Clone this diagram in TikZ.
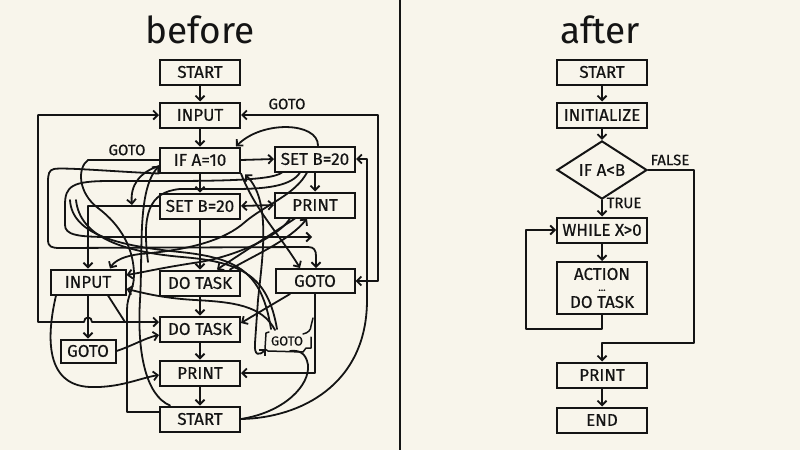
\documentclass[tikz,border=0pt]{standalone}
\usepackage{fontspec}
\setmainfont{Fira Sans}
\newfontfamily\bxfont{Fira Sans}[FakeBold=0.5]
\usetikzlibrary{arrows.meta,shapes.geometric}
\definecolor{bg}{RGB}{248,245,235}
\definecolor{ink}{RGB}{20,20,20}
\begin{document}
\begin{tikzpicture}[x=1pt,y=-1pt,
  box/.style={draw=ink,line width=2pt,minimum width=80pt,minimum height=25pt,inner sep=0pt,text=ink,font=\bxfont\fontsize{17}{17}\selectfont},
  rbox/.style={box,minimum width=90pt},
  dia/.style={box,shape=diamond,minimum width=90pt,minimum height=46pt},
  ln/.style={draw=ink,line width=1.8pt,line join=round,line cap=round},
  arr/.style={ln,-{Straight Barb[length=4.5pt,width=9pt]}},
  barr/.style={ln,{Straight Barb[length=4.5pt,width=9pt]}-{Straight Barb[length=4.5pt,width=9pt]}},
  rarr/.style={ln,{Straight Barb[length=4.5pt,width=9pt]}-},
  lbl/.style={text=ink,inner sep=0pt,font=\bxfont\fontsize{15}{15}\selectfont},
  ttl/.style={text=ink,inner sep=0pt,font=\fontsize{37}{38}\selectfont}]
\fill[bg] (0,0) rectangle (800,450);
\useasboundingbox (0,0) rectangle (800,450);

% titles and divider
\node[ttl] (tb) at (200,30) {before};
\node[ttl] (ta) at (600,30) {after};
\draw[ink,line width=1.8pt] (400,0) -- (400,450);

% ---------- left boxes ----------
\node[box] (s1) at (200,72) {START};
\node[box] (in1) at (200,115) {INPUT};
\node[box] (if1) at (200,160) {IF A=10};
\node[box] (setr) at (315,159) {SET B=20};
\node[box] (setm) at (200,206) {SET B=20};
\node[box] (prr) at (315,205) {PRINT};
\node[box,minimum width=75pt] (inl) at (88,282) {INPUT};
\node[box] (dt1) at (200,283) {DO TASK};
\node[box,minimum width=79pt,minimum height=24pt] (gtr) at (315,281) {GOTO};
\node[box] (dt2) at (200,329) {DO TASK};
\node[box,minimum width=55pt,minimum height=23pt] (gts) at (88,351) {GOTO};
\node[text=ink,inner sep=0pt,font=\bxfont\fontsize{13}{13}\selectfont] (gtw) at (287,341) {GOTO};
\node[box] (prb) at (200,373) {PRINT};
\node[box] (sb) at (200,419) {START};

% wobbly outline
\draw[ln,line width=1.5pt] (269,332) -- (266,333) -- (265,349) -- (268,351) -- (303,352) -- (306,348) -- (311,348) -- (311,337);
\draw[ln,line width=1.5pt] (303,334) .. controls (308,333) and (311,330) .. (311,326) -- (313,318);

% straight chain
\draw[arr] (s1) -- (in1);
\draw[arr] (in1) -- (if1);
\draw[arr] (if1) -- (setm);
\draw[arr] (setm) -- (dt1);
\draw[arr] (dt1) -- (dt2);
\draw[arr] (dt2) -- (prb);
\draw[arr] (prb) -- (sb);
\draw[arr] (if1.east) -- (setr.west);
\draw[arr] (setr) -- (prr);
\draw[barr] (setm.east) -- (prr.west);

% frames
\draw[barr] (in1.west) -- (38,115) -- (38,322) -- (84,322) .. controls (84,316) and (92,316) .. (92,322) -- ([yshift=7pt]dt2.west);
\draw[barr] (in1.east) -- (378,115) -- (378,281) -- (gtr.east);
\node[lbl] (lg1) at (287,104) {GOTO};
\node[lbl] (lg2) at (127,150) {GOTO};
\draw[rarr] (setr.east) -- (367,159) -- (367,300) .. controls (367,385) and (300,418) .. (sb.east);
\draw[arr] (gtr.south) |- (prb.east);
\draw[arr] ([xshift=-25pt]gtr.south) -- ([yshift=6pt]dt2.east);
\draw[arr] ([xshift=3pt]setr.north) .. controls (318,122) and (262,120) .. ([xshift=36pt]if1.north);

% left side links
\draw[arr] (inl.south) -- (gts.north);
\draw[arr] (gts.east) .. controls (132,346) and (145,338) .. ([yshift=-6pt]dt2.west);
\draw[arr] ([xshift=-32pt]inl.south) .. controls (48,330) and (42,385) .. (90,387) .. controls (120,388) and (140,378) .. ([yshift=-2pt]prb.west);
\draw[ln] ([xshift=20pt]inl.south) -- (125,322);
\draw[arr] (setm.west) -| (inl.north);

% spaghetti
\draw[ln] (if1.west) -- (88,160) .. controls (77,168) and (78,193) .. (98,208) .. controls (122,226) and (134,250) .. (134,275) .. controls (134,290) and (127,295) .. (127,310) -- (127,412) -- ([yshift=7pt]sb.west);
\draw[arr] ([xshift=-30pt]sb.north) .. controls (145,395) and (137,350) .. (140,300) .. controls (143,250) and (137,190) .. ([yshift=-6pt]if1.west);
\draw[rarr] (132,205) .. controls (130,185) and (140,172) .. ([yshift=-6pt]if1.west);
\draw[ln] (148,262) .. controls (142,215) and (148,192) .. (180,189) -- (235,189) .. controls (270,189) and (292,185) .. ([xshift=-15pt]setr.south);
\draw[arr] (if1.south west) .. controls (120,172) and (62,167) .. (54,169) .. controls (49,170) and (48,174) .. (48,182) -- (48,240) .. controls (48,247) and (52,248) .. (60,248) -- (308,247) .. controls (314,247) and (316,250) .. (316,256) -- ([xshift=1pt]gtr.north);
\draw[arr] ([xshift=-33pt]setr.south) .. controls (270,182) and (200,181) .. (110,181) .. controls (72,181) and (65,186) .. (65,205) -- (65,225) .. controls (65,235) and (78,237) .. (110,237) -- (312,237);
\draw[arr] ([xshift=-8pt]setr.south) .. controls (295,195) and (265,205) .. (245,222) .. controls (225,240) and (190,250) .. (140,254) .. controls (125,256) and (115,260) .. ([xshift=22pt]inl.north);
\draw[arr] ([xshift=-25pt]prr.south) .. controls (280,235) and (240,255) .. (200,262) .. controls (160,268) and (145,272) .. ([yshift=7pt]inl.east);
\draw[arr] ([xshift=-20pt]prr.south) -- ([xshift=17pt]dt1.north);
\draw[arr] ([xshift=30pt]dt1.north) .. controls (255,255) and (290,240) .. ([xshift=-8pt]prr.south);
\draw[arr] (if1.south east) .. controls (255,210) and (280,235) .. ([xshift=-15pt]gtr.north);
\draw[barr] (266,349) .. controls (259,356) and (254,356) .. (255,343) -- (258,300) .. controls (262,260) and (272,200) .. ([xshift=4pt,yshift=-1pt]if1.south east);
\draw[ln] (70,200) .. controls (72,235) and (120,246) .. (180,252) .. controls (238,258) and (262,272) .. (271,329);
\draw[ln] (76,200) .. controls (80,238) and (125,252) .. (182,257) .. controls (242,262) and (268,276) .. (277,329);
\draw[arr] (275,330) .. controls (262,305) and (232,302) .. (195,300) .. controls (160,298) and (140,292) .. ([yshift=-7pt]inl.east);
\draw[ln] (sb.east) .. controls (285,412) and (310,385) .. (308,365) .. controls (306,352) and (298,350) .. (290,351);

% ---------- right side ----------
\node[rbox] (rs) at (602,72) {START};
\node[rbox] (ri) at (602,115) {INITIALIZE};
\node[dia] (rd) at (602,170) {IF A<B};
\node[rbox] (rw) at (602,230) {WHILE X>0};
\node[rbox,minimum height=52pt,align=center,font=\bxfont\fontsize{17}{14}\selectfont] (ra) at (602,288) {ACTION\\[-3pt]{\fontsize{10}{14}\selectfont...}\\[3pt]DO TASK};
\node[rbox] (rp) at (602,375) {PRINT};
\node[rbox] (re) at (602,420) {END};

\draw[arr] (rs) -- (ri);
\draw[arr] (ri) -- (rd);
\draw[arr] (rd) -- (rw);
\draw[arr] (rw) -- (ra);
\draw[arr] (rp) -- (re);
\node[lbl] (lt) at (624,203) {TRUE};
\node[lbl] (lf) at (670,160) {FALSE};
\draw[arr] (rd.east) -- (694,170) -- (694,343) -- (602,343) -- (rp.north);
\draw[arr] (ra.south) -- (602,329) -- (526,329) |- (rw.west);
\end{tikzpicture}
\end{document}
